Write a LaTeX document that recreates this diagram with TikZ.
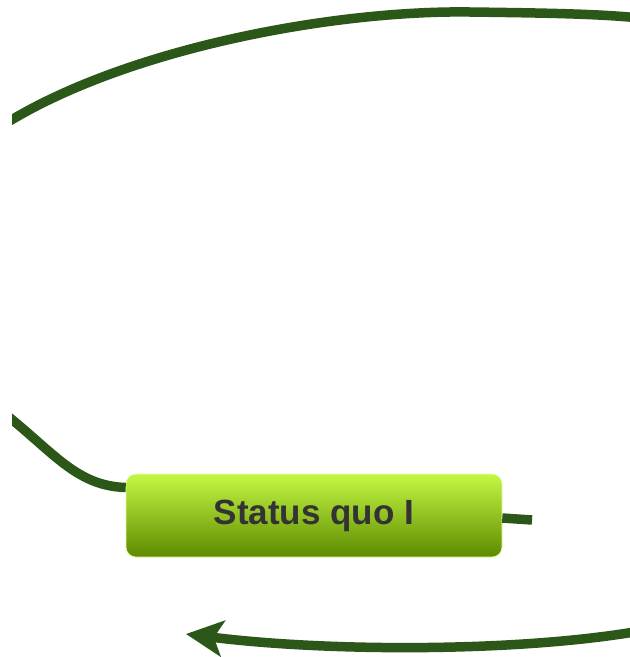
\documentclass[tikz,border=0pt]{standalone}
\usepackage{fontspec}
\setmainfont{Liberation Sans}
\usetikzlibrary{arrows.meta,calc}
\definecolor{linkgreen}{HTML}{2B5718}
\definecolor{boxtop}{HTML}{C4F844}
\definecolor{boxbot}{HTML}{5E8A00}
\definecolor{boxtext}{HTML}{333333}
\begin{document}
\begin{tikzpicture}[x=1pt,y=-1pt,
  link/.style={draw=linkgreen, line width=9.5pt},
  topic/.style={rounded corners=10pt, top color=boxtop, bottom color=boxbot,
    draw=boxtop!50!white, line width=0.6pt, minimum width=376pt,
    minimum height=83pt, inner sep=0pt,
    font=\fontsize{35}{40}\selectfont\bfseries, text=boxtext}]
\useasboundingbox (0,0) rectangle (630,657);
\begin{scope}
  \clip (12,0) rectangle (630,657);
  % topic box
  \node[topic] (sq) at (314,515.5) {Status quo I};
  % loose ends of the loop
  \coordinate (loopA) at (0,410);
  \coordinate (loopB) at (0,127);
  \coordinate (loopC) at (640,18);
  \coordinate (stub) at (532,520);
  \coordinate (inR) at (640,631);
  \coordinate (inL) at (186,634);
  % connectors
  \draw[link] (loopA) .. controls (52,450) and (75,486) .. ($(sq.west)+(0,-28)$);
  \draw[link] (loopB) .. controls (120,50) and (330,10) .. (470,12)
              .. controls (550,13) and (600,14) .. (loopC);
  \draw[link] ($(sq.east)+(0,2.5)$) -- (stub);
  \draw[link, -{Stealth[length=37pt,width=36pt,inset=9pt]}]
        (inR) .. controls (520,652) and (330,652) .. (inL);
\end{scope}
\end{tikzpicture}
\end{document}
